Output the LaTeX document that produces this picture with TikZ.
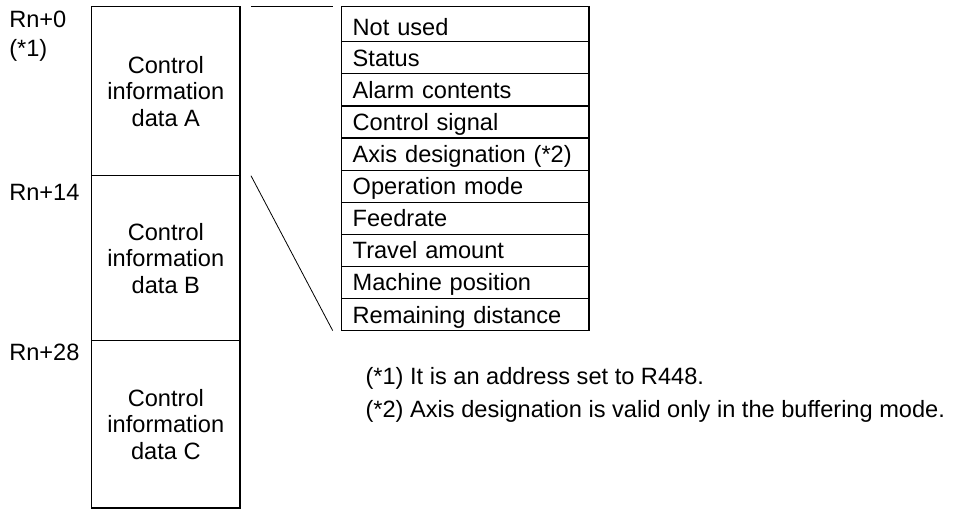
\documentclass[tikz,border=0pt]{standalone}
\usepackage{fontspec}
\setmainfont{Liberation Sans}
\usetikzlibrary{calc}
\tikzset{
  blk/.style={draw=black, line width=0.9pt, outer sep=0pt, align=center,
    minimum width=111.2pt, inner sep=0pt, font=\fontsize{17.7}{19.9}\selectfont},
  row/.style={draw=black, line width=0.9pt, outer sep=0pt, anchor=north west,
    minimum width=185.5pt, minimum height=24.1pt, inner xsep=8.25pt, inner ysep=0pt,
    text width=169pt, text height=12.7pt, text depth=0pt,
    align=left, font=\fontsize{17.7}{20}\selectfont},
  addr/.style={anchor=base west, inner sep=0pt, font=\fontsize{17.7}{20}\selectfont},
  note/.style={anchor=base west, inner sep=0pt, font=\fontsize{17.7}{20}\selectfont},
  lead/.style={draw=black, line width=0.6pt}
}
\begin{document}
\begin{tikzpicture}[x=0.75pt,y=-0.75pt]
  \useasboundingbox (0,0) rectangle (956,510);
  % left memory map
  \node[blk, minimum height=126.75pt] (dataA) at (165.85,91.2) {Control\\information\\data A};
  \node[blk, minimum height=123.75pt] (dataB) at (165.85,258.2) {Control\\information\\data B};
  \node[blk, minimum height=125.5pt] (dataC) at (165.85,424.35) {Control\\information\\data C};
  \node[addr] (rn0) at (9,27.3) {Rn+0};
  \node[addr] (ast1) at (9,56.7) {(*1)};
  \node[addr] (rn14) at (9,200) {Rn+14};
  \node[addr] (rn28) at (9,360) {Rn+28};
  % detail table
  \node[row, minimum height=26.25pt, text height=16.45pt] (r1) at (341.7,6.7) {Not used};
  \foreach \txt [count=\i from 2] in {Status,Alarm contents,Control signal,
      Axis designation (*2),Operation mode,Feedrate,Travel amount,
      Machine position,Remaining distance}
    \node[row] (r\i) at (341.7,{41.7+(\i-2)*32.1}) {\txt};
  % lead lines
  \coordinate (ldTopA) at ($(dataA.north east)+(11,0)$);
  \coordinate (ldTopB) at ($(r1.north west)+(-9,0)$);
  \coordinate (ldBotA) at ($(dataB.north east)+(11,0)$);
  \coordinate (ldBotB) at ($(r10.south west)+(-9,0)$);
  \draw[lead] (ldTopA) -- (ldTopB);
  \draw[lead] (ldBotA) -- (ldBotB);
  % notes
  \node[note] (n1) at (365.3,384) {(*1) It is an address set to R448.};
  \node[note] (n2) at (365.3,417.3) {(*2) Axis designation is valid only in the buffering mode.};
\end{tikzpicture}
\end{document}
